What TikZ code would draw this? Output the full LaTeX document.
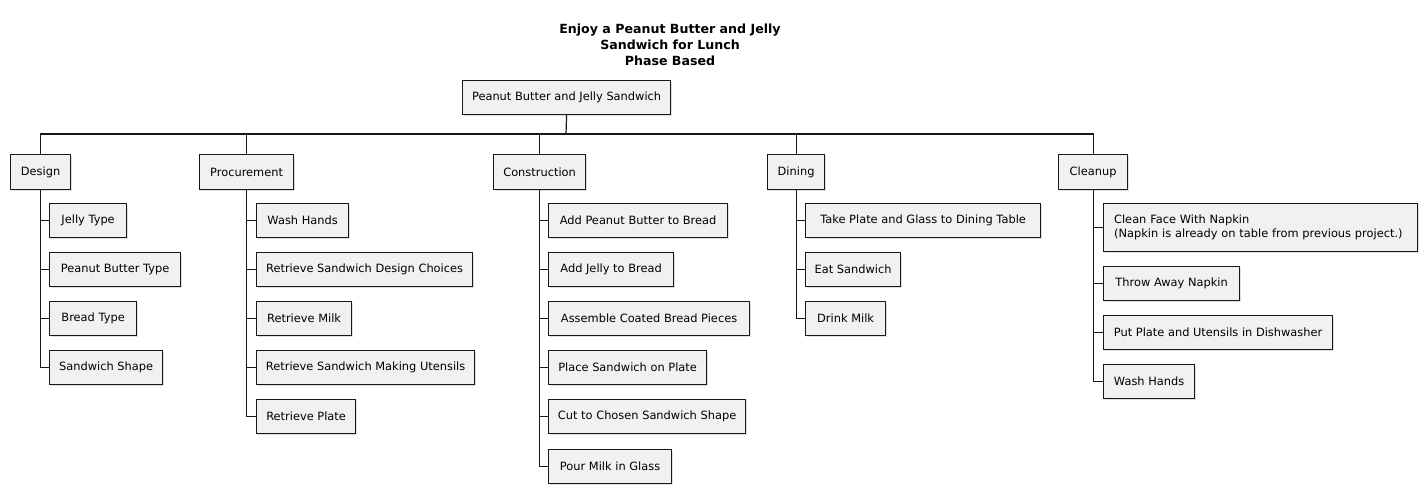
\documentclass[tikz,border=0pt]{standalone}
\usepackage{fontspec}
\setmainfont{DejaVu Sans}
\usetikzlibrary{shadows}
\definecolor{boxfill}{HTML}{F1F1F1}
\definecolor{boxline}{HTML}{181818}
\tikzset{
  x=1pt, y=-1pt,
  wbox/.style={draw=boxline, line width=1.2pt, fill=boxfill, inner sep=0pt,
    minimum height=34pt, anchor=north west,
    font=\fontsize{11.4}{14}\selectfont,
    drop shadow={shadow xshift=0.9pt, shadow yshift=-0.9pt, fill=black!25, opacity=0.5}},
  phase/.style={wbox, minimum height=35pt},
  conn/.style={draw=boxline, line width=1.2pt},
}
\begin{document}
\begin{tikzpicture}
\useasboundingbox (0,0) rectangle (1426,493);
\node[font=\fontsize{12.6}{16}\selectfont\bfseries, align=center] (title) at (670,45)
  {Enjoy a Peanut Butter and Jelly\\Sandwich for Lunch\\Phase Based};

\node[wbox, minimum width=208pt] (root) at (462,80) {Peanut Butter and Jelly Sandwich};
\coordinate (bus) at (566,134);

\node[phase, minimum width=60pt] (design) at (10,154) {Design};
\node[phase, minimum width=94pt] (proc) at (199,154) {Procurement};
\node[phase, minimum width=92pt] (cons) at (493,154) {Construction};
\node[phase, minimum width=57pt] (dine) at (767,154) {Dining};
\node[phase, minimum width=69pt] (clean) at (1058,154) {Cleanup};

\draw[conn] (root.south) -- (bus);
\draw[conn] (design.north) |- (bus) -| (clean.north);
\foreach \p in {proc,cons,dine}
  \draw[conn] (bus -| \p.north) -- (\p.north);

% Design
\node[wbox, minimum width=77pt] (d1) at (49,203) {Jelly Type};
\node[wbox, minimum width=131pt] (d2) at (49,252) {Peanut Butter Type};
\node[wbox, minimum width=87pt] (d3) at (49,301) {Bread Type};
\node[wbox, minimum width=113pt] (d4) at (49,350) {Sandwich Shape};
\draw[conn] (design.south) |- (d4.west);
\foreach \c in {d1,d2,d3} \draw[conn] (design.south |- \c.west) -- (\c.west);

% Procurement
\node[wbox, minimum width=92pt] (p1) at (256,203) {Wash Hands};
\node[wbox, minimum width=216pt] (p2) at (256,252) {Retrieve Sandwich Design Choices};
\node[wbox, minimum width=95pt] (p3) at (256,301) {Retrieve Milk};
\node[wbox, minimum width=218pt] (p4) at (256,350) {Retrieve Sandwich Making Utensils};
\node[wbox, minimum width=99pt] (p5) at (256,399) {Retrieve Plate};
\draw[conn] (proc.south) |- (p5.west);
\foreach \c in {p1,p2,p3,p4} \draw[conn] (proc.south |- \c.west) -- (\c.west);

% Construction
\node[wbox, minimum width=179pt] (c1) at (548,203) {Add Peanut Butter to Bread};
\node[wbox, minimum width=125pt] (c2) at (548,252) {Add Jelly to Bread};
\node[wbox, minimum width=201pt] (c3) at (548,301) {Assemble Coated Bread Pieces};
\node[wbox, minimum width=158pt] (c4) at (548,350) {Place Sandwich on Plate};
\node[wbox, minimum width=197pt] (c5) at (548,399) {Cut to Chosen Sandwich Shape};
\node[wbox, minimum width=123pt] (c6) at (548,449) {Pour Milk in Glass};
\draw[conn] (cons.south) |- (c6.west);
\foreach \c in {c1,c2,c3,c4,c5} \draw[conn] (cons.south |- \c.west) -- (\c.west);

% Dining
\node[wbox, minimum width=235pt] (n1) at (805,203) {Take Plate and Glass to Dining Table};
\node[wbox, minimum width=95pt] (n2) at (805,252) {Eat Sandwich};
\node[wbox, minimum width=80pt] (n3) at (805,301) {Drink Milk};
\draw[conn] (dine.south) |- (n3.west);
\foreach \c in {n1,n2} \draw[conn] (dine.south |- \c.west) -- (\c.west);

% Cleanup
\node[wbox, minimum width=314pt, minimum height=48pt, text width=293pt, align=left] (k1) at (1103,203)
  {Clean Face With Napkin\\(Napkin is already on table from previous project.)};
\node[wbox, minimum width=136pt] (k2) at (1103,266) {Throw Away Napkin};
\node[wbox, minimum width=229pt] (k3) at (1103,315) {Put Plate and Utensils in Dishwasher};
\node[wbox, minimum width=91pt] (k4) at (1103,364) {Wash Hands};
\draw[conn] (clean.south) |- (k4.west);
\foreach \c in {k1,k2,k3} \draw[conn] (clean.south |- \c.west) -- (\c.west);
\end{tikzpicture}
\end{document}
